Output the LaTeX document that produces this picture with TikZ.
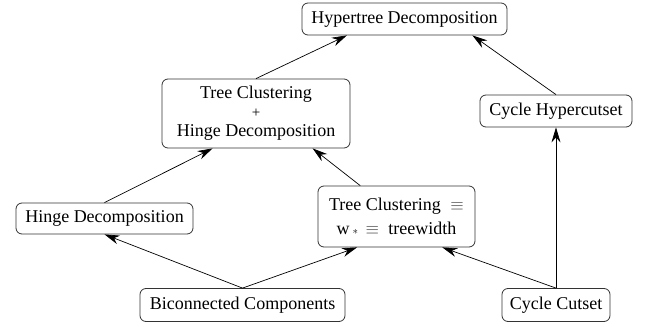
\documentclass[tikz,border=0pt]{standalone}
\usepackage{fontspec}
\setmainfont{Liberation Serif}
\usetikzlibrary{arrows.meta,calc}
\begin{document}
\begin{tikzpicture}[x=1pt,y=-1pt,
  box/.style={draw=black!80,line width=0.8pt,rounded corners=6pt,inner sep=0pt,
    font=\fontsize{18}{21}\selectfont,align=center},
  arr/.style={line width=0.7pt,-{Stealth[length=15pt,width=9pt]}}]
\useasboundingbox (0,0) rectangle (649,327);
\node[box,minimum width=205,minimum height=32] (ht) at (404.5,19) {Hypertree Decomposition};
\node[box,minimum width=188,minimum height=69] (tch) at (256,113.5) {Tree Clustering\\[-2pt]{\fontsize{15}{15}\selectfont +}\\[-2pt]Hinge Decomposition};
\node[box,minimum width=152,minimum height=32] (chc) at (556,111) {Cycle Hypercutset};
\node[box,minimum width=177,minimum height=31] (hd) at (104.5,218.5) {Hinge Decomposition};
\node[box,minimum width=157,minimum height=61] (tce) at (396.5,216.5) {Tree Clustering \;{\color{black!75}$\equiv$}\\[3pt]w\,{\fontsize{11}{11}\selectfont $\ast$}\, {\color{black!75}$\equiv$}\; treewidth};
\node[box,minimum width=205,minimum height=33] (bc) at (242.5,305) {Biconnected Components};
\node[box,minimum width=108,minimum height=33] (cc) at (556,305) {Cycle Cutset};
\draw[arr] (tch.north) -- ($(ht.south west)!0.22!(ht.south east)$);
\draw[arr] (chc.north) -- ($(ht.south west)!0.83!(ht.south east)$);
\draw[arr] (hd.north) -- ($(tch.south west)!0.27!(tch.south east)$);
\draw[arr] ($(tce.north west)!0.27!(tce.north east)$) -- ($(tch.south west)!0.80!(tch.south east)$);
\draw[arr] (bc.north) -- (hd.south);
\draw[arr] (bc.north) -- ($(tce.south west)!0.25!(tce.south east)$);
\draw[arr] (cc.north) -- ($(tce.south west)!0.79!(tce.south east)$);
\draw[arr] (cc.north) -- (chc.south);
\end{tikzpicture}
\end{document}
